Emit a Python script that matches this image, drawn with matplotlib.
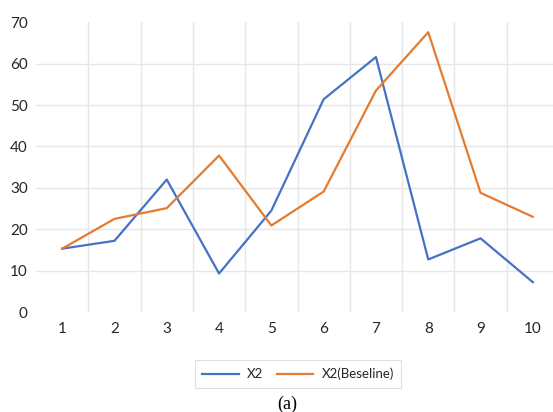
import matplotlib
matplotlib.use("Agg")
import matplotlib.pyplot as plt
import numpy as np

categories = [1, 2, 3, 4, 5, 6, 7, 8, 9, 10]
x2 = [15.3, 17.2, 32.0, 9.3, 24.5, 51.4, 61.6, 12.7, 17.8, 7.2]
x2_baseline = [15.3, 22.5, 25.1, 37.8, 20.9, 29.1, 53.5, 67.6, 28.8, 23.0]
yticks = [0, 10, 20, 30, 40, 50, 60, 70]

fig = plt.figure(figsize=(5.53, 4.12), dpi=100)
ax = fig.add_axes([36/553, 1-312/412, 523/553, 289.7/412])

l1, = ax.plot(categories, x2, color="#4472C4", lw=1.6, label="X2")
l2, = ax.plot(categories, x2_baseline, color="#E57B2F", lw=1.6, label="X2(Beseline)")

ax.set_xlim(0.5, 10.5)
ax.set_ylim(0, 70)
ax.set_yticks(yticks)
ax.set_xticks(categories)
ax.set_xticks([c + 0.5 for c in categories[:-1]], minor=True)
for s in ax.spines.values():
    s.set_visible(False)
ax.tick_params(axis="both", which="both", length=0)
ax.tick_params(axis="y", pad=6)
ax.tick_params(axis="x", pad=7)
for lab in ax.get_xticklabels() + ax.get_yticklabels():
    lab.set_fontfamily("Lato")
    lab.set_fontsize(11)
    lab.set_color("#262626")

ax.grid(axis="y", which="major", color="#E6E6E6", lw=1)
ax.grid(axis="x", which="minor", color="#E6E6E6", lw=1)
ax.grid(axis="x", which="major", visible=False)
glines = ax.yaxis.get_gridlines()
glines[0].set_visible(False)
glines[-1].set_visible(False)
ax.set_axisbelow(True)

leg = fig.legend(handles=[l1, l2], loc="center", bbox_to_anchor=(298/553, 1-374/412),
                 ncol=2, frameon=True, fancybox=False, edgecolor="#D9D9D9",
                 prop={"family": "Lato", "size": 9.5}, handlelength=2.8,
                 columnspacing=1.0, handletextpad=0.6, borderpad=0.55)
leg.get_frame().set_linewidth(0.8)
for t in leg.get_texts():
    t.set_color("#262626")

fig.text(287/553, 1-404/412, "(a)", ha="center", va="center",
         fontfamily="Liberation Serif", fontsize=13)

fig.savefig("out.png", dpi=100)
